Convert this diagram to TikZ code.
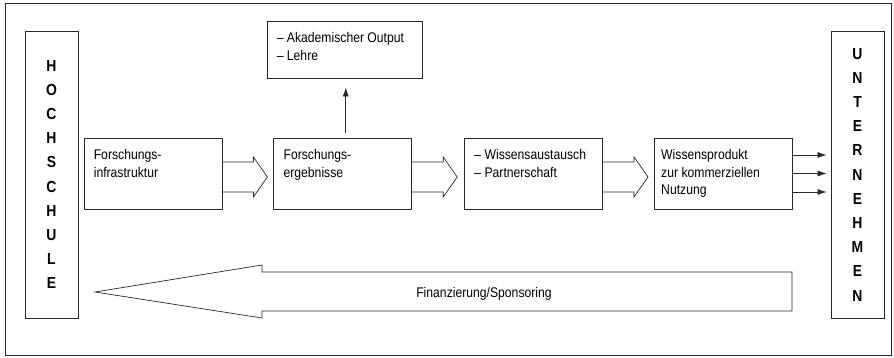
\documentclass[tikz,border=0pt]{standalone}
\usepackage{fontspec}
\setmainfont[FakeStretch=0.87]{Liberation Sans}
\usetikzlibrary{
	positioning,
	calc,
	arrows.meta
}
\definecolor{LineGray}{RGB}{40,40,40}

\begin{document}
\begin{tikzpicture}[
	x=1pt, y=1pt,
	node distance=51pt,
	every node/.style={font=\fontsize{14}{17.5}\selectfont},
	box/.style={draw=LineGray, line width=.8pt, minimum width=138pt, minimum height=71pt, inner sep=0pt},
	sidebox/.style={draw=LineGray, line width=.8pt, minimum width=53pt, minimum height=287pt, align=center, font=\bfseries\fontsize{16}{24.2}\selectfont},
	boxtext/.style={anchor=north west, align=left, inner sep=0pt},
	hollow/.style={draw=LineGray, line width=.7pt, line join=miter},
	pointer/.style={draw=LineGray, line width=.7pt, -{Latex[length=9pt,width=6pt]}}
	]
				
				\useasboundingbox (0,0) rectangle (894,358);
				\draw[LineGray, line width=1pt] (5,2) rectangle (891,354);
				
				% side blocks
				\node[sidebox] (hs) at (51.5,183.5) {H\\O\\C\\H\\S\\C\\H\\U\\L\\E};
				\node[sidebox] (un) at (857.5,183.5) {U\\N\\T\\E\\R\\N\\E\\H\\M\\E\\N};
				
				% chain
				\node[box] (fi) at (153,184.5) {};
				\node[box, right=of fi] (fe) {};
				\node[box, right=52pt of fe] (wa) {};
				\node[box, right=of wa] (wp) {};
				\node[box, minimum width=155pt, minimum height=57pt] (ak) at (344.5,308.5) {};
				
				\node[boxtext] (fit) at ($(fi.north west)+(10,-12)$) {Forschungs-\\infrastruktur};
				\node[boxtext] (fet) at ($(fe.north west)+(10,-12)$) {Forschungs-\\ergebnisse};
				\node[boxtext] (wat) at ($(wa.north west)+(10,-12)$) {\textendash{} Wissensaustausch\\\textendash{} Partnerschaft};
				\node[boxtext] (wpt) at ($(wp.north west)+(7,-12)$) {Wissensprodukt\\zur kommerziellen\\Nutzung};
				\node[boxtext] (akt) at ($(ak.north west)+(10,-12)$) {\textendash{} Akademischer Output\\\textendash{} Lehre};
				
				% block arrows
				\foreach \from in {fi,fe,wa}
					\draw[hollow] ([yshift=11.5pt]\from.east) -- ++(31,0) -- ++(0,5) -- ++(14,-20) -- ++(-14,-20) -- ++(0,5) -- ++(-31,0);
				
				\draw[pointer, shorten <=5pt, shorten >=9pt] ([xshift=3pt]fe.north) -- ([xshift=3pt]fe.north |- ak.south);
				
				\foreach \dy in {18.5,0,-18.5}
					\draw[pointer, shorten >=4pt] ([yshift=\dy pt]wp.east) -- ([yshift=\dy pt]wp.east -| un.west);
				
				% return flow
				\draw[hollow] (95,66) -- (262,93) -- (262,86) -- (792,86) -- (792,47) -- (262,47) -- (262,40) -- cycle;
				\node[anchor=base] (fin) at (484,60) {Finanzierung/Sponsoring};
				
\end{tikzpicture}
\end{document}
